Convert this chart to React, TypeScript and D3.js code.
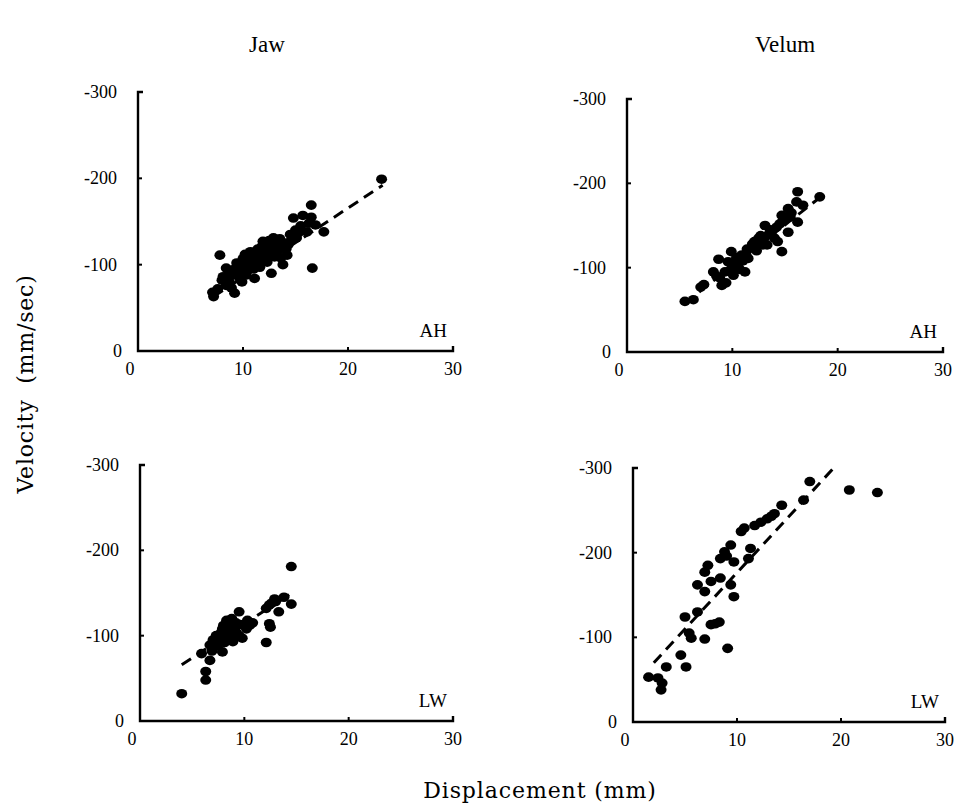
import React from "react";
import * as d3 from "d3";

// ---- Data (displacement mm, velocity mm/sec) ----
const jawAH: [number, number][] = [
  [7.2, -63], [7.1, -68], [7.6, -72], [7.8, -111], [8.1, -86], [8.0, -82], [8.4, -76], [8.4, -96],
  [8.7, -80], [8.9, -73], [9.0, -88], [9.2, -67], [9.2, -95], [9.5, -92], [9.7, -84], [9.8, -90],
  [10.0, -98], [10.0, -107], [10.3, -88], [10.4, -93], [10.6, -102], [10.7, -115], [10.9, -96],
  [11.0, -95], [11.1, -84], [11.2, -106], [11.3, -103], [11.5, -110], [11.6, -97], [11.8, -115],
  [11.9, -127], [12.0, -108], [12.2, -119], [12.3, -103], [12.4, -112], [12.6, -122], [12.7, -90],
  [12.8, -116], [12.9, -131], [13.0, -109], [13.2, -115], [13.4, -120], [13.6, -108], [13.8, -100],
  [14.0, -125], [14.2, -111], [14.3, -123], [14.6, -128], [14.8, -154], [15.1, -131], [15.3, -137],
  [15.7, -157], [16.1, -138], [16.3, -148], [16.5, -155], [16.5, -169], [16.6, -96], [16.9, -146],
  [17.7, -138], [23.2, -199], [10.5, -110], [11.4, -118], [12.1, -125], [12.5, -128], [13.1, -126],
  [13.5, -130], [14.1, -118], [14.5, -135], [15.0, -140], [15.5, -145], [9.4, -102], [10.2, -112],
  [11.8, -121], [12.9, -112], [9.9, -80], [8.6, -88],
];
const velumAH: [number, number][] = [
  [5.5, -60], [6.3, -62], [7.0, -77], [7.3, -80], [8.2, -95], [8.7, -110], [8.8, -88], [9.0, -79],
  [9.4, -82], [9.6, -107], [9.8, -97], [9.9, -119], [10.1, -91], [10.2, -104], [10.4, -112],
  [10.5, -103], [10.7, -98], [10.9, -115], [11.0, -108], [11.2, -95], [11.4, -122], [11.5, -111],
  [11.7, -123], [11.9, -128], [12.1, -131], [12.3, -120], [12.5, -135], [12.7, -138], [12.9, -127],
  [13.1, -150], [13.3, -127], [13.5, -140], [13.7, -142], [14.0, -135], [14.3, -131], [14.5, -152],
  [14.7, -119], [14.7, -162], [15.0, -158], [15.3, -142], [15.3, -170], [15.6, -165], [16.1, -178],
  [16.2, -154], [16.2, -190], [16.7, -174], [18.3, -184], [10.0, -100], [10.6, -110], [11.3, -115],
  [12.0, -125], [12.6, -130], [13.0, -135], [13.6, -145], [14.2, -148], [14.8, -155], [15.5, -160],
  [9.3, -95], [8.5, -90],
];
const jawLW: [number, number][] = [
  [4.0, -32], [6.3, -48], [6.3, -58], [6.7, -71], [5.9, -79], [6.7, -89], [7.0, -95], [7.3, -93],
  [7.6, -99], [7.9, -81], [7.9, -108], [8.2, -100], [8.6, -116], [8.6, -95], [8.9, -93], [9.0, -110],
  [9.2, -104], [9.5, -128], [9.5, -100], [9.8, -97], [10.0, -112], [10.2, -108], [10.3, -118],
  [12.1, -92], [12.5, -110], [12.1, -132], [12.6, -138], [13.0, -140], [13.3, -128], [13.8, -145],
  [14.5, -137], [14.5, -181], [7.3, -100], [7.8, -104], [8.0, -112], [8.3, -118], [8.8, -120],
  [9.2, -115], [9.6, -113], [10.5, -112], [10.8, -115], [8.5, -106], [9.0, -100], [7.4, -88],
  [6.9, -82], [12.9, -143], [12.4, -136], [12.4, -114], [8.1, -92],
];
const velumLW: [number, number][] = [
  [1.5, -53], [2.4, -52], [2.7, -38], [3.2, -65], [4.6, -79], [5.1, -65], [5.0, -124], [5.4, -105],
  [6.2, -130], [6.9, -98], [7.5, -115], [8.3, -118], [9.1, -87], [6.2, -162], [6.9, -154],
  [6.9, -177], [7.2, -185], [7.5, -166], [8.4, -170], [8.4, -193], [8.8, -201], [9.4, -209],
  [9.4, -162], [9.7, -148], [9.7, -189], [10.4, -225], [10.7, -229], [11.1, -193], [11.3, -205],
  [12.3, -236], [12.9, -240], [13.3, -243], [14.3, -256], [16.4, -262], [17.0, -284], [20.8, -274],
  [23.5, -271], [7.9, -116], [5.6, -99], [2.8, -46], [9.0, -196], [11.7, -232], [13.6, -246],
];

// regression lines (endpoints)
const fitJawAH: [number, number][] = [[7.2, -63], [23.3, -192]];
const fitVelumAH: [number, number][] = [[5.5, -58], [18.5, -185]];
const fitJawLW: [number, number][] = [[4.0, -66], [14.3, -148]];
const fitVelumLW: [number, number][] = [[2.0, -70], [19.3, -300]];

const xTicks = [0, 10, 20, 30];
const yTicks = [0, -100, -200, -300];
const columnTitles = ["Jaw", "Velum"];
const panelLabels = ["AH", "AH", "LW", "LW"];

const SERIF = "'Liberation Serif', 'DejaVu Serif', serif";
const WIDE_SERIF = "'DejaVu Serif', 'Liberation Serif', serif";

type PanelProps = {
  data: [number, number][];
  fit: [number, number][];
  label: string;
  xr: [number, number];
  yr: [number, number];
};

function Panel({ data, fit, label, xr, yr }: PanelProps) {
  const x = d3.scaleLinear().domain([0, 30]).range(xr);
  const y = d3.scaleLinear().domain([0, -300]).range(yr);
  const line = d3.line<[number, number]>().x((d) => x(d[0])).y((d) => y(d[1]));
  const x0 = x(0);
  const y0 = y(0);
  return (
    <g>
      <path
        d={`M${x0 + 5},${y(-300)} H${x0} V${y0} H${x(30)} V${y0 - 5}`}
        fill="none"
        stroke="#000"
        strokeWidth={2.4}
      />
      {yTicks.filter((t) => t !== 0 && t !== -300).map((t) => (
        <line key={t} x1={x0} x2={x0 + 4} y1={y(t)} y2={y(t)} stroke="#000" strokeWidth={2} />
      ))}
      {xTicks.filter((t) => t !== 0 && t !== 30).map((t) => (
        <line key={t} x1={x(t)} x2={x(t)} y1={y0} y2={y0 - 4} stroke="#000" strokeWidth={2} />
      ))}
      {yTicks.map((t) => (
        <text
          key={t}
          x={t === 0 ? x0 - 16 : x0 - 21}
          y={y(t) + 6}
          textAnchor="end"
          fontFamily={SERIF}
          fontSize={18}
        >
          {t === 0 ? "0" : String(t)}
        </text>
      ))}
      {xTicks.map((t) => (
        <text
          key={t}
          x={t === 0 ? x(t) - 8 : x(t)}
          y={y0 + 24}
          textAnchor="middle"
          fontFamily={SERIF}
          fontSize={18}
        >
          {t}
        </text>
      ))}
      <path d={line(fit) || ""} fill="none" stroke="#000" strokeWidth={3} strokeDasharray="11 7" />
      {data.map((d, i) => (
        <ellipse key={i} cx={x(d[0])} cy={y(d[1])} rx={5.5} ry={4.8} fill="#000" />
      ))}
      <text x={x(30) - 6} y={y0 - 14} textAnchor="end" fontFamily={SERIF} fontSize={19}>
        {label}
      </text>
    </g>
  );
}

export default function App() {
  return (
    <svg
      width={954}
      height={807}
      style={{ position: "absolute", left: 0, top: 0, background: "#fff" }}
    >
      <rect width={954} height={807} fill="#fff" />
      <text x={267} y={52} textAnchor="middle" fontFamily={SERIF} fontSize={23}>
        {columnTitles[0]}
      </text>
      <text x={785} y={52} textAnchor="middle" fontFamily={SERIF} fontSize={23}>
        {columnTitles[1]}
      </text>
      <text
        transform="translate(33,384) rotate(-90)"
        textAnchor="middle"
        fontFamily={WIDE_SERIF}
        fontSize={22}
        letterSpacing={0.8}
        style={{ whiteSpace: "pre" }}
      >
        {"Velocity  (mm/sec)"}
      </text>
      <text
        x={540}
        y={798}
        textAnchor="middle"
        fontFamily={WIDE_SERIF}
        fontSize={22}
        letterSpacing={0.9}
      >
        Displacement (mm)
      </text>
      <Panel data={jawAH} fit={fitJawAH} label={panelLabels[0]} xr={[138, 453]} yr={[351, 92]} />
      <Panel data={velumAH} fit={fitVelumAH} label={panelLabels[1]} xr={[627, 943]} yr={[352, 99]} />
      <Panel data={jawLW} fit={fitJawLW} label={panelLabels[2]} xr={[140, 453]} yr={[721, 465]} />
      <Panel data={velumLW} fit={fitVelumLW} label={panelLabels[3]} xr={[633, 945]} yr={[722, 468]} />
    </svg>
  );
}
